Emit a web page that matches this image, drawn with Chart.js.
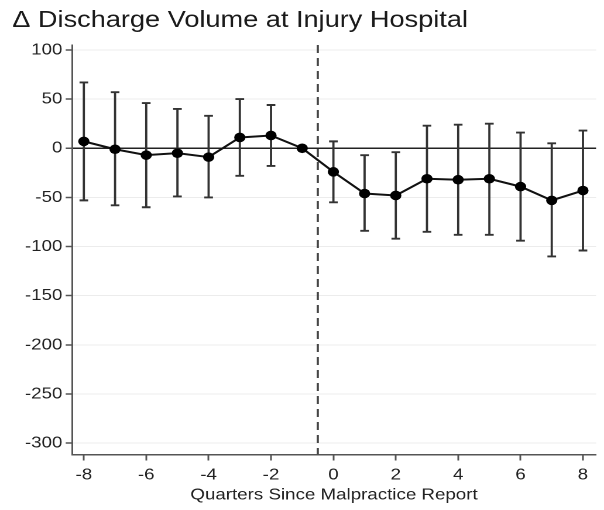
<!DOCTYPE html>
<html>
<head>
<meta charset="utf-8">
<script src="https://cdn.jsdelivr.net/npm/chart.js@4/dist/chart.umd.min.js"></script>
<style>
  html, body { margin: 0; padding: 0; background: #fff; }
  #wrap { width: 604px; height: 510px; overflow: hidden; }
  /* the figure is laid out on a narrower canvas and widened to the page width */
  #c { width: 604px !important; height: 510px !important; display: block; }
</style>
</head>
<body>
<div id="wrap"><canvas id="c" width="516" height="510" style="width:604px;height:510px"></canvas></div>
<script>
// Event-study estimates: quarter relative to the report, point estimate, 95% CI bounds
const quarters = [-8, -7, -6, -5, -4, -3, -2, -1, 0, 1, 2, 3, 4, 5, 6, 7, 8];
const estimate = [7, -1, -7, -5, -9, 11, 13, 0, -24, -46, -48, -31, -32, -31, -39, -53, -43];
const ciUpper  = [67, 57, 46, 40, 33, 50, 44, null, 7, -7, -4, 23, 24, 25, 16, 5, 18];
const ciLower  = [-53, -58, -60, -49, -50, -28, -18, null, -55, -84, -92, -85, -88, -88, -94, -110, -104];

const xTicks = [-8, -6, -4, -2, 0, 2, 4, 6, 8];
const yTicks = [-300, -250, -200, -150, -100, -50, 0, 50, 100];
const reportLine = -0.5;

const FONT = '"Liberation Sans", Arial, Helvetica, sans-serif';

// Confidence-interval whiskers with caps, drawn under the markers
const errorBars = {
  id: 'errorBars',
  beforeDatasetsDraw(chart) {
    const { ctx, scales: { x, y } } = chart;
    ctx.save();
    ctx.strokeStyle = '#333';
    ctx.lineWidth = 1.9;
    const cap = 3.7;
    quarters.forEach((q, i) => {
      if (ciUpper[i] == null || ciLower[i] == null) return;
      const px = x.getPixelForValue(q);
      const top = y.getPixelForValue(ciUpper[i]);
      const bot = y.getPixelForValue(ciLower[i]);
      ctx.beginPath();
      ctx.moveTo(px, top); ctx.lineTo(px, bot);
      ctx.moveTo(px - cap, top); ctx.lineTo(px + cap, top);
      ctx.moveTo(px - cap, bot); ctx.lineTo(px + cap, bot);
      ctx.stroke();
    });
    ctx.restore();
  }
};

// Dashed vertical marker between the last pre-report and first post-report quarter
const refLine = {
  id: 'refLine',
  beforeDatasetsDraw(chart) {
    const { ctx, chartArea, scales: { x } } = chart;
    const px = x.getPixelForValue(reportLine);
    ctx.save();
    ctx.strokeStyle = '#444';
    ctx.lineWidth = 1.8;
    ctx.setLineDash([8, 5]);
    ctx.beginPath();
    ctx.moveTo(px, chartArea.top);
    ctx.lineTo(px, chartArea.bottom);
    ctx.stroke();
    ctx.restore();
  }
};

new Chart(document.getElementById('c'), {
  type: 'scatter',
  data: {
    datasets: [{
      data: quarters.map((q, i) => ({ x: q, y: estimate[i] })),
      showLine: true,
      borderColor: '#111',
      borderWidth: 2,
      pointRadius: 4.8,
      pointBackgroundColor: '#000',
      pointBorderColor: '#000',
      pointBorderWidth: 0,
      pointHoverRadius: 4.8
    }]
  },
  options: {
    responsive: false,
    animation: false,
    devicePixelRatio: 2,
    layout: { padding: { left: 10.5, right: 6.8, top: 0, bottom: 0 } },
    plugins: {
      legend: { display: false },
      tooltip: { enabled: false },
      title: {
        display: true,
        text: 'Δ Discharge Volume at Injury Hospital',
        align: 'start',
        color: '#1a1a1a',
        font: { family: FONT, size: 23.2, weight: 'normal', lineHeight: 1.2 },
        padding: { top: 6.5, bottom: 10.7 }
      }
    },
    scales: {
      x: {
        type: 'linear',
        min: -8.38,
        max: 8.42,
        afterBuildTicks(axis) { axis.ticks = xTicks.map(v => ({ value: v })); },
        afterFit(axis) { axis.height = 55.5; },
        border: { color: '#555', width: 1.5 },
        grid: { drawOnChartArea: false, drawTicks: true, tickLength: 6, tickColor: '#555', tickWidth: 1.5 },
        ticks: { color: '#222', font: { family: FONT, size: 16 }, padding: 5, maxRotation: 0 },
        title: {
          display: true,
          text: 'Quarters Since Malpractice Report',
          color: '#222',
          font: { family: FONT, size: 16 },
          padding: { top: 0, bottom: 5.5 }
        }
      },
      y: {
        type: 'linear',
        min: -311.5,
        max: 105,
        afterBuildTicks(axis) { axis.ticks = yTicks.map(v => ({ value: v })); },
        afterFit(axis) { axis.width = 51; },
        border: { color: '#555', width: 1.5 },
        grid: {
          drawTicks: true,
          tickLength: 5.4,
          tickColor: '#555',
          tickWidth: 1.5,
          color: ctx => (ctx.tick && ctx.tick.value === 0) ? '#222' : '#ececec',
          lineWidth: ctx => (ctx.tick && ctx.tick.value === 0) ? 1.5 : 1
        },
        ticks: { color: '#222', font: { family: FONT, size: 16 }, padding: 2.8 }
      }
    }
  },
  plugins: [errorBars, refLine]
});
</script>
</body>
</html>
